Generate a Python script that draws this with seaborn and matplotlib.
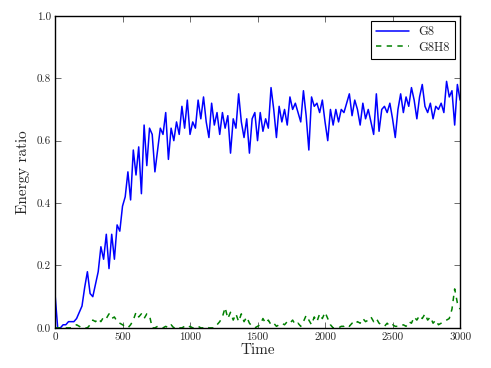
import numpy as np
import pandas as pd
import matplotlib
matplotlib.use("Agg")
import matplotlib.pyplot as plt
import seaborn as sns

time = list(range(0, 3001, 20))

g8 = [0.11, 0.00, 0.00, 0.01, 0.01, 0.02, 0.02, 0.02, 0.03, 0.05,
      0.07, 0.13, 0.18, 0.11, 0.10, 0.14, 0.18, 0.26, 0.22, 0.30,
      0.19, 0.30, 0.22, 0.33, 0.31, 0.39, 0.42, 0.50, 0.41, 0.57,
      0.49, 0.58, 0.43, 0.65, 0.52, 0.64, 0.62, 0.50, 0.57, 0.64,
      0.62, 0.69, 0.54, 0.64, 0.60, 0.66, 0.62, 0.71, 0.64, 0.73,
      0.62, 0.66, 0.64, 0.73, 0.67, 0.74, 0.66, 0.61, 0.72, 0.65,
      0.69, 0.62, 0.69, 0.64, 0.68, 0.56, 0.67, 0.64, 0.75, 0.66,
      0.61, 0.67, 0.56, 0.67, 0.69, 0.60, 0.69, 0.63, 0.67, 0.64,
      0.77, 0.70, 0.61, 0.71, 0.66, 0.70, 0.65, 0.74, 0.70, 0.72,
      0.69, 0.66, 0.76, 0.68, 0.57, 0.74, 0.71, 0.72, 0.69, 0.73,
      0.66, 0.60, 0.70, 0.65, 0.70, 0.66, 0.70, 0.69, 0.72, 0.75,
      0.68, 0.73, 0.70, 0.65, 0.72, 0.67, 0.70, 0.66, 0.62, 0.75,
      0.63, 0.70, 0.71, 0.69, 0.72, 0.67, 0.61, 0.70, 0.75, 0.69,
      0.74, 0.71, 0.77, 0.73, 0.67, 0.74, 0.78, 0.71, 0.69, 0.72,
      0.67, 0.71, 0.70, 0.72, 0.69, 0.79, 0.74, 0.76, 0.65, 0.78,
      0.73]

g8h8 = [0.00, 0.00, 0.00, 0.00, 0.00, 0.00, 0.00, 0.005, 0.01, 0.005,
        0.00, 0.00, 0.00, 0.01, 0.025, 0.02, 0.03, 0.02, 0.035, 0.03,
        0.045, 0.03, 0.035, 0.02, 0.015, 0.01, 0.005, 0.00, 0.01, 0.025,
        0.05, 0.035, 0.045, 0.03, 0.045, 0.04, 0.00, 0.00, 0.005, 0.00,
        0.00, 0.005, 0.00, 0.01, 0.00, 0.005, 0.00, 0.00, 0.005, 0.00,
        0.005, 0.00, 0.00, 0.005, 0.00, 0.00, 0.005, 0.00, 0.00, 0.00,
        0.01, 0.02, 0.035, 0.065, 0.03, 0.05, 0.025, 0.045, 0.02, 0.045,
        0.02, 0.035, 0.015, 0.005, 0.00, 0.005, 0.01, 0.03, 0.015, 0.025,
        0.01, 0.015, 0.005, 0.01, 0.015, 0.01, 0.02, 0.015, 0.025, 0.01,
        0.015, 0.005, 0.02, 0.04, 0.025, 0.01, 0.035, 0.02, 0.045, 0.03,
        0.05, 0.03, 0.01, 0.00, 0.00, 0.00, 0.005, 0.005, 0.01, 0.005,
        0.015, 0.01, 0.02, 0.015, 0.03, 0.02, 0.025, 0.035, 0.02, 0.03,
        0.015, 0.01, 0.005, 0.015, 0.005, 0.01, 0.005, 0.005, 0.005, 0.01,
        0.005, 0.02, 0.015, 0.035, 0.025, 0.04, 0.03, 0.045, 0.025, 0.035,
        0.015, 0.025, 0.01, 0.015, 0.02, 0.025, 0.03, 0.06, 0.125, 0.08,
        0.06]

series_names = ["G8", "G8H8"]
x_ticks = [0, 500, 1000, 1500, 2000, 2500, 3000]
y_ticks = [0.0, 0.2, 0.4, 0.6, 0.8, 1.0]

sns.set_theme(style="ticks")
plt.rcParams["font.family"] = ["cmr10", "DejaVu Serif"]
plt.rcParams["axes.formatter.use_mathtext"] = True
plt.rcParams["mathtext.fontset"] = "cm"

df1 = pd.DataFrame({"Time": time, "ratio": g8})
df2 = pd.DataFrame({"Time": time, "ratio": g8h8})

fig = plt.figure(figsize=(4.91, 3.68), dpi=100)
ax = fig.add_axes([0.112, 0.109, 0.825, 0.848])

sns.lineplot(data=df1, x="Time", y="ratio", ax=ax, color="#0000ff",
             linewidth=1.1, label=series_names[0])
sns.lineplot(data=df2, x="Time", y="ratio", ax=ax, color="#008000",
             linewidth=1.1, linestyle=(0, (3.5, 3.5)), label=series_names[1])

ax.set_xlim(0, 3000)
ax.set_ylim(0, 1.0)
ax.set_xticks(x_ticks)
ax.set_yticks(y_ticks)
ax.set_xticklabels([str(v) for v in x_ticks])
ax.set_yticklabels([f"{v:.1f}" for v in y_ticks])
ax.tick_params(direction="in", top=True, right=True, labelsize=8,
               length=4, width=0.6, color="#555555", pad=3)
for sp in ax.spines.values():
    sp.set_color("black")
    sp.set_linewidth(1.0)
ax.set_xlabel("Time", fontsize=11, labelpad=1)
ax.set_ylabel("Energy ratio", fontsize=11, labelpad=5)

leg = ax.legend(loc="upper right", fontsize=9, frameon=True, fancybox=False,
                framealpha=1, edgecolor="black", borderpad=0.4,
                handlelength=2.6, labelspacing=0.3, borderaxespad=0.4,
                handletextpad=0.8)
leg.get_frame().set_linewidth(0.8)

fig.savefig("out.png", dpi=100)
